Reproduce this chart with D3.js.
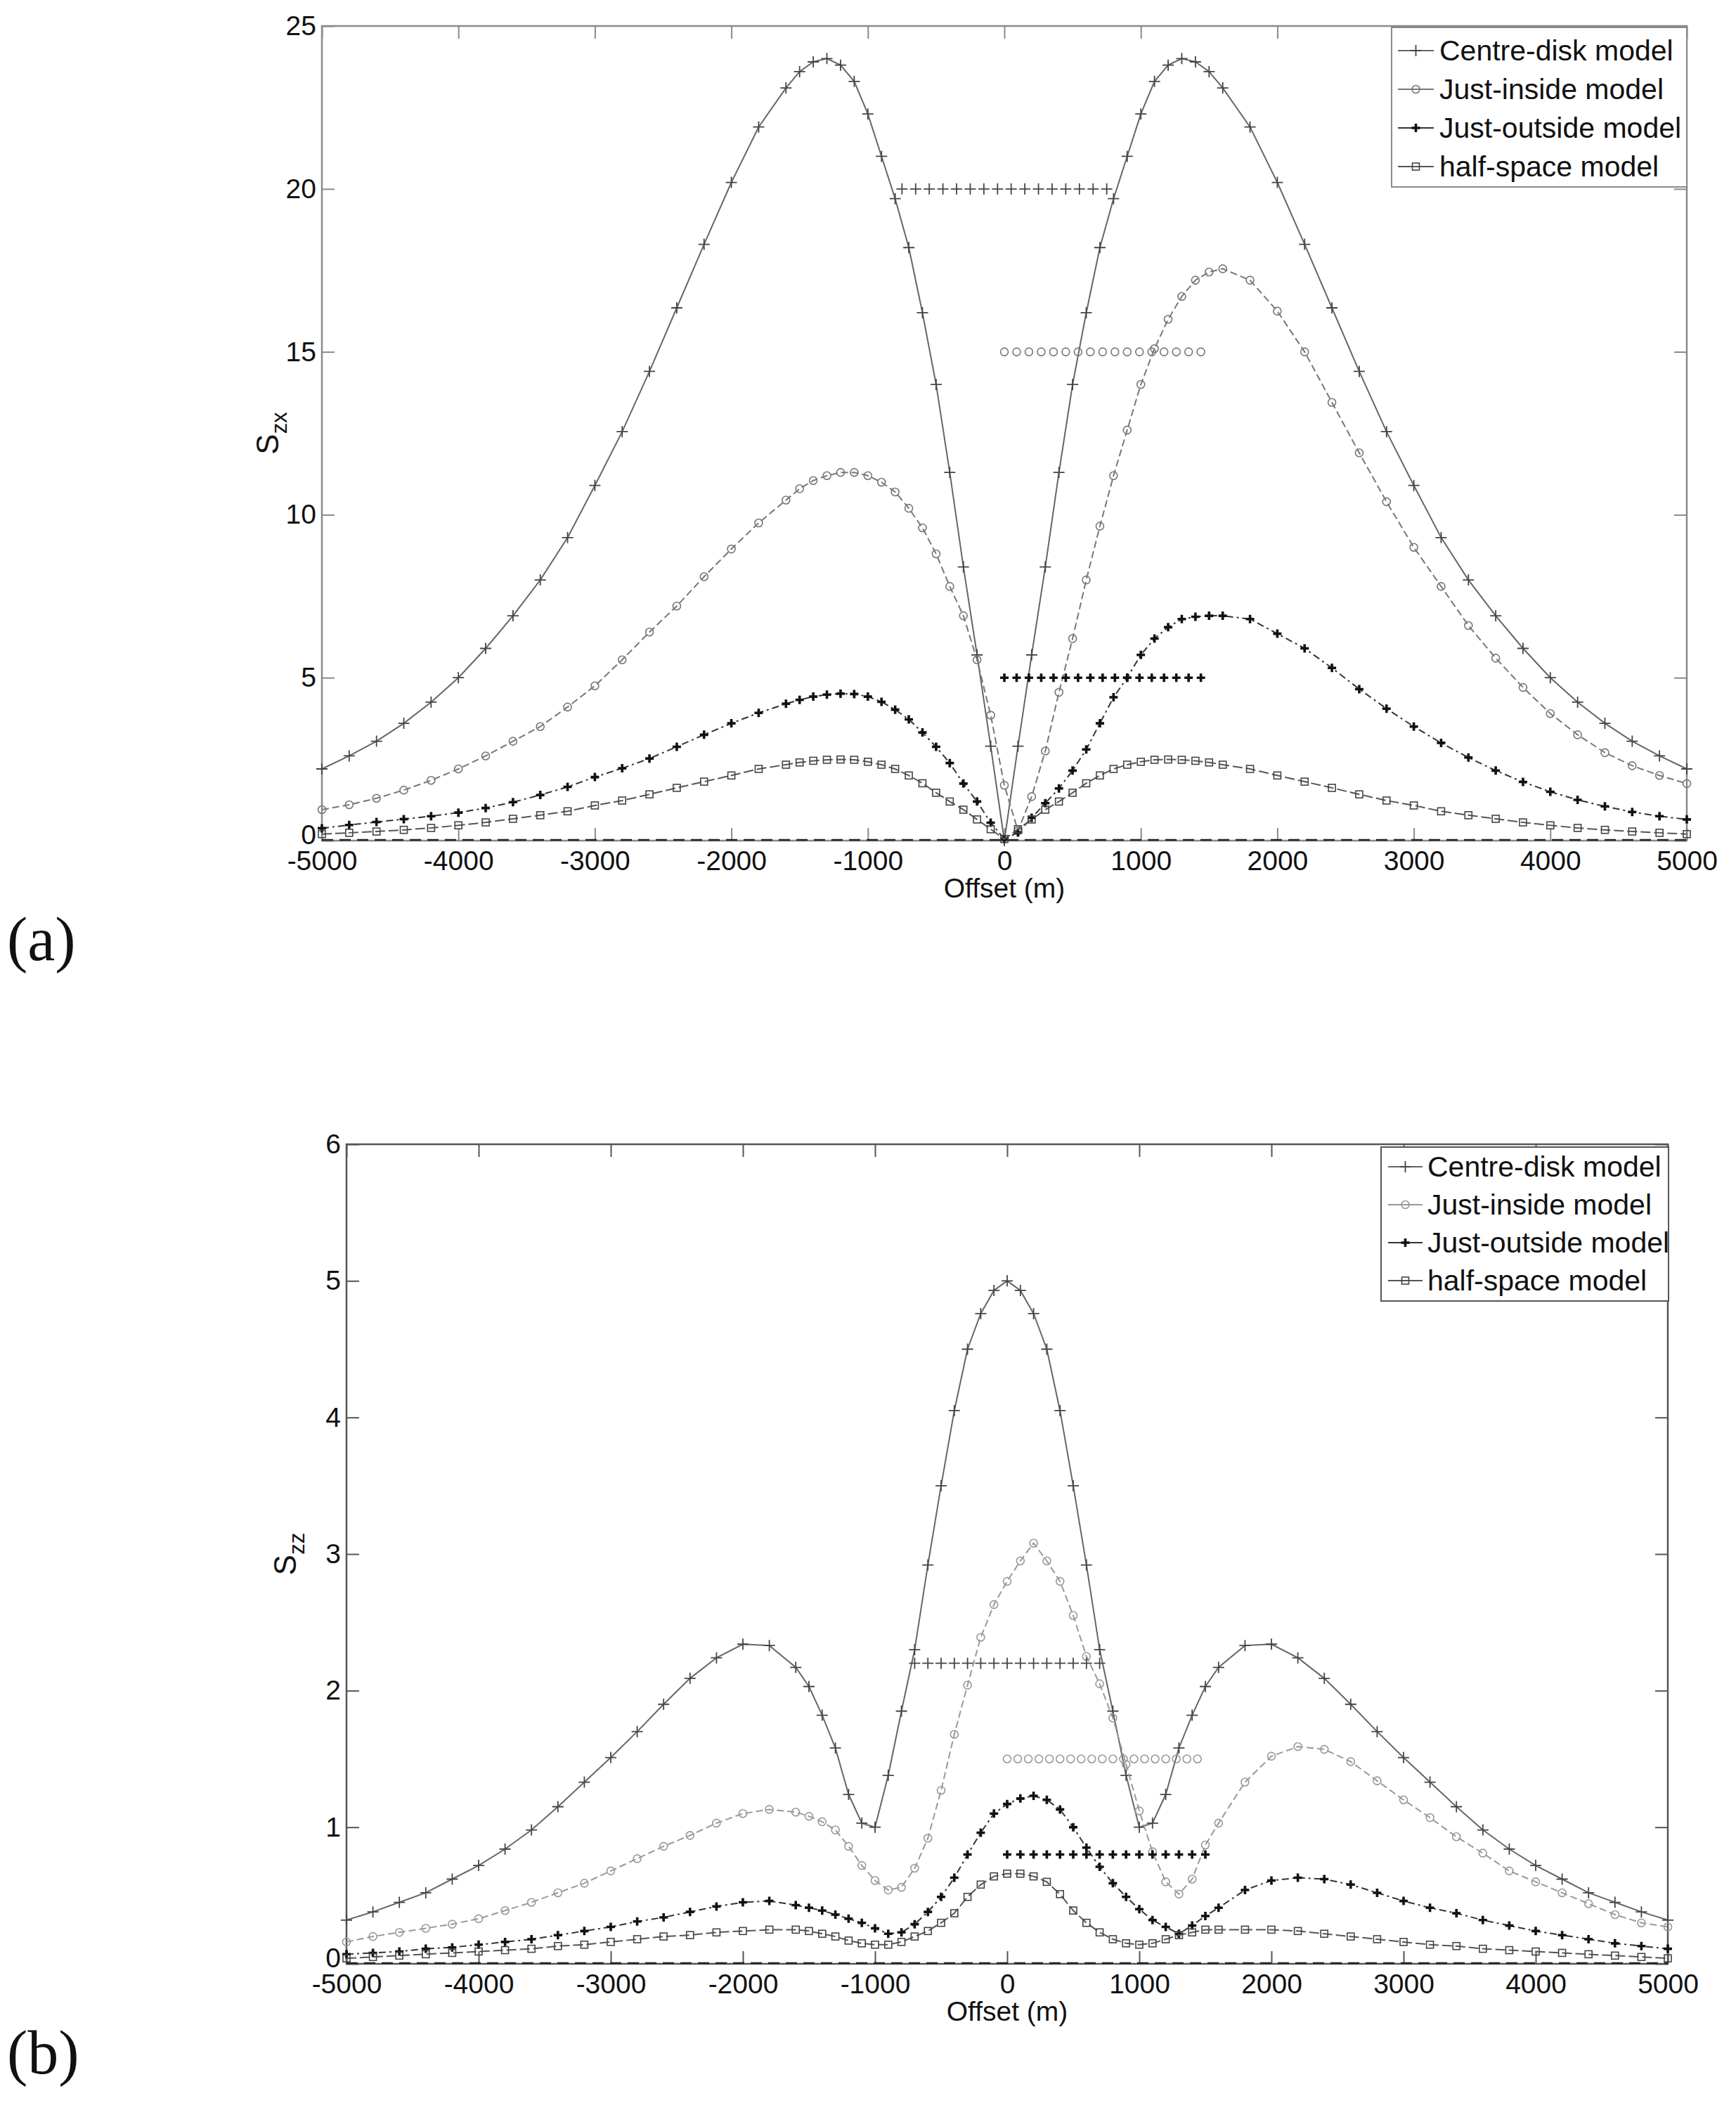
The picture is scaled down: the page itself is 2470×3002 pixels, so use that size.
<!DOCTYPE html>
<meta charset="utf-8">
<head>
<style>
body { margin: 0; background: #fff; }
text { font-family: "Liberation Sans", Arial, sans-serif; fill: #111; }
.tick text { font-size: 39px; }
.legend text { font-size: 41px; }
.panel-tag { font-family: "Liberation Serif", serif; font-size: 88px; }
</style>
</head>
<body>
<div id="my_dataviz"></div>

<script src="https://d3js.org/d3.v7.min.js"></script>
<script>

// offsets (m) at which every model was evaluated
var offsets = [-5000,-4800,-4600,-4400,-4200,-4000,-3800,-3600,-3400,-3200,-3000,-2800,-2600,-2400,-2200,-2000,-1800,-1600,
  -1500,-1400,-1300,-1200,-1100,-1000,-900,-800,-700,-600,-500,-400,-300,-200,-100,
  0,
  100,200,300,400,500,600,700,800,900,1000,1100,1200,1300,1400,1500,
  1600,1800,2000,2200,2400,2600,2800,3000,3200,3400,3600,3800,4000,4200,4400,4600,4800,5000];

var xTicks = [-5000,-4000,-3000,-2000,-1000,0,1000,2000,3000,4000,5000];
var yTicksA = [0,5,10,15,20,25];
var yTicksB = [0,1,2,3,4,5,6];

var modelNames = ["Centre-disk model", "Just-inside model", "Just-outside model", "half-space model"];

// (a) S_zx
var szxCentre = [2.2,2.6,3.05,3.6,4.25,5.0,5.9,6.9,8.0,9.3,10.9,12.55,14.4,16.35,18.3,20.2,21.9,23.1,
  23.6,23.9,24.0,23.8,23.3,22.3,21.0,19.7,18.2,16.2,14.0,11.3,8.4,5.7,2.9,
  0.0,
  2.9,5.7,8.4,11.3,14.0,16.2,18.2,19.7,21.0,22.3,23.3,23.8,24.0,23.9,23.6,
  23.1,21.9,20.2,18.3,16.35,14.4,12.55,10.9,9.3,8.0,6.9,5.9,5.0,4.25,3.6,3.05,2.6,2.2];
var szxInside = [0.95,1.1,1.3,1.55,1.85,2.2,2.6,3.05,3.5,4.1,4.75,5.55,6.4,7.2,8.1,8.95,9.75,10.45,
  10.8,11.05,11.2,11.3,11.3,11.2,11.0,10.7,10.2,9.6,8.8,7.8,6.9,5.55,3.85,
  1.7,
  0.3,1.35,2.75,4.55,6.2,8.0,9.65,11.2,12.6,14.0,15.1,16.0,16.7,17.2,17.45,
  17.55,17.2,16.25,15.0,13.45,11.9,10.4,9.0,7.8,6.6,5.6,4.7,3.9,3.25,2.7,2.3,2.0,1.75];
var szxOutside = [0.38,0.48,0.57,0.66,0.75,0.86,1.0,1.18,1.4,1.65,1.95,2.22,2.52,2.88,3.25,3.6,3.92,4.2,
  4.32,4.42,4.48,4.51,4.5,4.42,4.26,4.02,3.72,3.32,2.88,2.38,1.75,1.2,0.55,
  0.05,
  0.25,0.7,1.15,1.6,2.15,2.8,3.6,4.4,5.0,5.7,6.2,6.55,6.8,6.87,6.9,
  6.9,6.8,6.35,5.9,5.3,4.65,4.05,3.5,3.0,2.55,2.15,1.8,1.5,1.25,1.05,0.88,0.75,0.65];
var szxHalf = [0.2,0.24,0.28,0.33,0.39,0.47,0.56,0.67,0.78,0.9,1.08,1.23,1.42,1.62,1.81,2.0,2.2,2.33,
  2.4,2.45,2.48,2.49,2.48,2.42,2.33,2.2,2.0,1.76,1.47,1.2,0.95,0.65,0.35,
  0.05,
  0.35,0.65,0.95,1.2,1.47,1.76,2.0,2.2,2.33,2.42,2.48,2.49,2.48,2.45,2.4,
  2.33,2.2,2.0,1.81,1.62,1.42,1.23,1.08,0.9,0.78,0.67,0.56,0.47,0.39,0.33,0.28,0.24,0.2];

// (b) S_zz
var szzCentre = [0.32,0.38,0.45,0.52,0.62,0.72,0.84,0.98,1.15,1.33,1.51,1.7,1.9,2.09,2.24,2.34,2.33,2.17,
  2.03,1.82,1.58,1.24,1.03,1.0,1.38,1.85,2.3,2.92,3.5,4.05,4.5,4.76,4.93,
  5.0,
  4.93,4.76,4.5,4.05,3.5,2.92,2.3,1.85,1.38,1.0,1.03,1.24,1.58,1.82,2.03,
  2.17,2.33,2.34,2.24,2.09,1.9,1.7,1.51,1.33,1.15,0.98,0.84,0.72,0.62,0.52,0.45,0.38,0.32];
var szzInside = [0.16,0.2,0.23,0.26,0.29,0.33,0.39,0.45,0.52,0.59,0.68,0.77,0.86,0.94,1.03,1.1,1.13,1.11,
  1.08,1.04,0.98,0.86,0.72,0.61,0.54,0.56,0.7,0.92,1.27,1.68,2.04,2.39,2.63,
  2.8,
  2.95,3.08,2.95,2.8,2.55,2.25,2.05,1.8,1.46,1.12,0.82,0.6,0.51,0.62,0.87,
  1.03,1.33,1.52,1.59,1.57,1.48,1.34,1.2,1.07,0.93,0.81,0.68,0.6,0.52,0.44,0.36,0.3,0.27];
var szzOutside = [0.07,0.08,0.09,0.11,0.12,0.14,0.16,0.18,0.21,0.24,0.27,0.31,0.34,0.38,0.42,0.45,0.46,0.43,
  0.41,0.39,0.36,0.33,0.3,0.26,0.22,0.23,0.29,0.38,0.49,0.63,0.8,0.96,1.1,
  1.17,
  1.21,1.23,1.2,1.13,1.0,0.85,0.71,0.59,0.49,0.4,0.32,0.27,0.22,0.28,0.35,
  0.41,0.54,0.61,0.63,0.62,0.58,0.52,0.46,0.41,0.37,0.32,0.28,0.24,0.21,0.18,0.15,0.13,0.11];
var szzHalf = [0.04,0.05,0.06,0.07,0.08,0.09,0.1,0.11,0.13,0.14,0.16,0.18,0.2,0.21,0.23,0.24,0.25,0.25,
  0.24,0.22,0.2,0.17,0.15,0.14,0.14,0.16,0.2,0.24,0.3,0.37,0.49,0.58,0.64,
  0.66,
  0.66,0.64,0.6,0.51,0.39,0.3,0.23,0.18,0.15,0.14,0.15,0.18,0.21,0.23,0.25,
  0.25,0.25,0.25,0.24,0.22,0.2,0.18,0.16,0.14,0.13,0.11,0.1,0.09,0.08,0.07,0.06,0.05,0.04];

// marker rows showing the disk extent for each model
var diskCentreA = [-750,-650,-550,-450,-350,-250,-150,-50,50,150,250,350,450,550,650,750];
var diskInsideA = [0,90,180,270,360,450,540,630,720,810,900,990,1080,1170,1260,1350,1440];
var diskOutsideA = [0,90,180,270,360,450,540,630,720,810,900,990,1080,1170,1260,1350,1440];
var diskLevelsA = [20, 15, 5];
var diskCentreB = [-700,-600,-500,-400,-300,-200,-100,0,100,200,300,400,500,600,700];
var diskInsideB = [0,80,160,240,320,400,480,560,640,720,800,880,960,1040,1120,1200,1280,1360,1440];
var diskOutsideB = [0,100,200,300,400,500,600,700,800,900,1000,1100,1200,1300,1400,1500];
var diskLevelsB = [2.2, 1.5, 0.8];

var svg = d3.select("#my_dataviz")
  .append("svg")
    .attr("width", 2470)
    .attr("height", 3002);

var panels = [
  { left: 458, top: 37, width: 1942, height: 1159, ymax: 25, yTicks: yTicksA, sub: "zx", tag: "(a)", tagY: 1366,
    series: [szxCentre, szxInside, szxOutside, szxHalf],
    rows: [diskCentreA, diskInsideA, diskOutsideA], levels: diskLevelsA,
    frame: "#8a8a8a", insideColor: "#777", ylabX: 396,
    legend: { x: 1980, y: 39, w: 420, h: 227, first: 33, step: 55, text: 2048, l0: 1989, l1: 2040 } },
  { left: 493, top: 1628, width: 1880, height: 1166, ymax: 6, yTicks: yTicksB, sub: "zz", tag: "(b)", tagY: 2950,
    series: [szzCentre, szzInside, szzOutside, szzHalf],
    rows: [diskCentreB, diskInsideB, diskOutsideB], levels: diskLevelsB,
    frame: "#555", insideColor: "#999", ylabX: 421,
    legend: { x: 1965, y: 1632, w: 409, h: 219, first: 28, step: 54, text: 2031, l0: 1975, l1: 2024 } }
];

function styleFor(i, p) {
  if (i == 0) return { line: "#666", dash: null, marker: "plus", mcolor: "#444", mwidth: 1.8, msize: 8 };
  if (i == 1) return { line: p.insideColor, dash: "10,5", marker: "circle", mcolor: p.insideColor, mwidth: 1.6, msize: 5.5 };
  if (i == 2) return { line: "#333", dash: "10,5,3,5", marker: "plus", mcolor: "#111", mwidth: 3.6, msize: 6 };
  return { line: "#555", dash: "14,5", marker: "square", mcolor: "#444", mwidth: 1.6, msize: 5 };
}

function drawMarkers(g, pts, st) {
  if (st.marker == "circle") {
    g.selectAll(null).data(pts).enter().append("circle")
      .attr("cx", function(d) { return d[0]; })
      .attr("cy", function(d) { return d[1]; })
      .attr("r", st.msize)
      .style("fill", "none").style("stroke", st.mcolor).style("stroke-width", st.mwidth);
  } else if (st.marker == "square") {
    g.selectAll(null).data(pts).enter().append("rect")
      .attr("x", function(d) { return d[0] - st.msize; })
      .attr("y", function(d) { return d[1] - st.msize; })
      .attr("width", st.msize * 2).attr("height", st.msize * 2)
      .style("fill", "none").style("stroke", st.mcolor).style("stroke-width", st.mwidth);
  } else {
    var s = st.msize;
    g.selectAll(null).data(pts).enter().append("path")
      .attr("d", function(d) {
        return "M" + (d[0] - s) + "," + d[1] + "H" + (d[0] + s) + "M" + d[0] + "," + (d[1] - s) + "V" + (d[1] + s);
      })
      .style("fill", "none").style("stroke", st.mcolor).style("stroke-width", st.mwidth);
  }
}

panels.forEach(function(p) {
  var g = svg.append("g").attr("transform", "translate(" + p.left + "," + p.top + ")");

  var x = d3.scaleLinear().domain([-5000, 5000]).range([0, p.width]);
  var y = d3.scaleLinear().domain([0, p.ymax]).range([p.height, 0]);
  var fmt = function(d) { return String(d); };

  // axes, ticks inside on all four sides
  var ax = [
    g.append("g").attr("transform", "translate(0," + p.height + ")")
      .call(d3.axisBottom(x).tickValues(xTicks).tickSize(-18).tickSizeOuter(0).tickPadding(14).tickFormat(fmt)),
    g.append("g")
      .call(d3.axisTop(x).tickValues(xTicks).tickSize(-18).tickSizeOuter(0).tickFormat("")),
    g.append("g")
      .call(d3.axisLeft(y).tickValues(p.yTicks).tickSize(-18).tickSizeOuter(0).tickPadding(8).tickFormat(fmt)),
    g.append("g").attr("transform", "translate(" + p.width + ",0)")
      .call(d3.axisRight(y).tickValues(p.yTicks).tickSize(-18).tickSizeOuter(0).tickFormat(""))
  ];
  ax.forEach(function(a) {
    a.select(".domain").remove();
    a.selectAll(".tick line").style("stroke", p.frame).style("stroke-width", 2);
    a.attr("font-family", null).attr("font-size", null);
  });
  // the zero label sits a little above the corner, clear of -5000
  ax[2].selectAll(".tick text")
    .filter(function(d) { return d == 0; })
    .attr("dy", "0.12em");

  g.append("rect")
    .attr("width", p.width).attr("height", p.height)
    .style("fill", "none").style("stroke", p.frame).style("stroke-width", 2.5);

  // zero line
  g.append("line")
    .attr("x1", 0).attr("x2", p.width)
    .attr("y1", y(0) - 1).attr("y2", y(0) - 1)
    .style("stroke", "#222").style("stroke-width", 2.5).style("stroke-dasharray", "16,9");

  var line = d3.line()
    .x(function(d) { return d[0]; })
    .y(function(d) { return d[1]; });

  p.series.forEach(function(vals, i) {
    var st = styleFor(i, p);
    var pts = offsets.map(function(o, k) { return [x(o), y(vals[k])]; });
    var path = g.append("path")
      .attr("d", line(pts))
      .style("fill", "none").style("stroke", st.line).style("stroke-width", 2);
    if (st.dash) path.style("stroke-dasharray", st.dash);
    drawMarkers(g.append("g"), pts, st);
  });

  // disk extent rows
  p.rows.forEach(function(row, i) {
    var st = styleFor(i, p);
    var pts = row.map(function(o) { return [x(o), y(p.levels[i])]; });
    drawMarkers(g.append("g"), pts, st);
  });

  // axis titles
  svg.append("text")
    .attr("x", p.left + p.width / 2)
    .attr("y", p.top + p.height + 81)
    .style("text-anchor", "middle")
    .style("font-size", "39px")
    .text("Offset (m)");

  var yl = svg.append("text")
    .attr("transform", "translate(" + p.ylabX + "," + (p.top + p.height / 2) + ") rotate(-90)")
    .style("text-anchor", "middle")
    .style("font-size", "44px");
  yl.append("tspan").text("S");
  yl.append("tspan").attr("dy", 12).style("font-size", "31px").text(p.sub);

  svg.append("text")
    .attr("class", "panel-tag")
    .attr("x", 10)
    .attr("y", p.tagY)
    .text(p.tag);

  // legend
  var L = p.legend;
  var lg = svg.append("g").attr("class", "legend");
  lg.append("rect")
    .attr("x", L.x).attr("y", L.y).attr("width", L.w).attr("height", L.h)
    .style("fill", "#fff").style("stroke", p.frame).style("stroke-width", 2);
  modelNames.forEach(function(name, i) {
    var st = styleFor(i, p);
    var cy = L.y + L.first + i * L.step;
    lg.append("line")
      .attr("x1", L.l0).attr("x2", L.l1).attr("y1", cy).attr("y2", cy)
      .style("stroke", st.line).style("stroke-width", 2);
    drawMarkers(lg.append("g"), [[(L.l0 + L.l1) / 2, cy]], st);
    lg.append("text")
      .attr("x", L.text).attr("y", cy)
      .attr("dy", "0.35em")
      .text(name);
  });
});

</script>
</body>
